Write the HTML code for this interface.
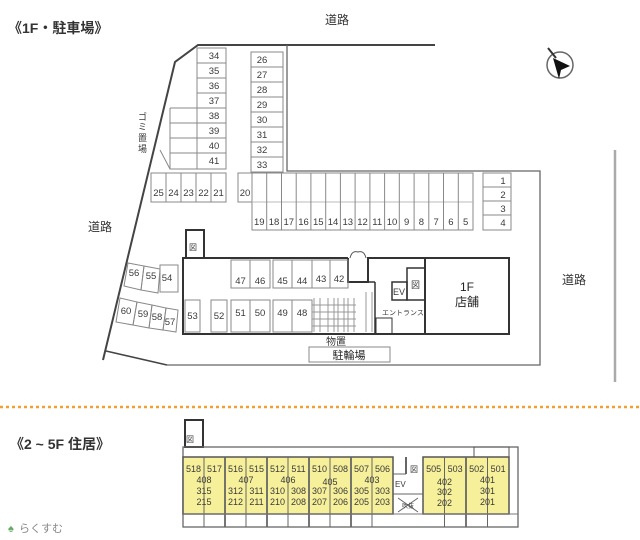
<!DOCTYPE html>
<html><head><meta charset="utf-8"><style>
html,body{margin:0;padding:0;background:#fff}
svg{display:block}
text{font-family:"Liberation Sans","Noto Sans CJK JP",sans-serif;fill:#3a3a3a}
.n{font-size:9.5px;text-anchor:middle}
.c{fill:none;stroke:#888;stroke-width:1}
.t{fill:none;stroke:#333;stroke-width:2}
</style></head><body>
<svg width="640" height="540" viewBox="0 0 640 540" xmlns="http://www.w3.org/2000/svg">
<text x="8" y="33" style="font-size:14px;fill:#333;font-weight:600">《1F・駐車場》</text>
<text x="325" y="24" style="font-size:12px;fill:#333">道路</text>
<text x="88" y="231" style="font-size:12px;fill:#333">道路</text>
<text x="562" y="284" style="font-size:12px;fill:#333">道路</text>
<circle cx="560" cy="65" r="13" fill="none" stroke="#666" stroke-width="1.5"/>
<polygon points="553,58 570,66 561,70 559,79" fill="#111"/>
<line x1="548" y1="48" x2="556" y2="58" stroke="#333" stroke-width="2"/>
<polyline class="t" points="435,45 198,45 175,62 103,360" style="stroke:#444"/>
<line x1="106" y1="351" x2="167" y2="365" stroke="#444" stroke-width="1.5"/>
<polyline points="167,365 540,365 540,171 287,171 287,45" fill="none" stroke="#666" stroke-width="1.3"/>
<line x1="615" y1="150" x2="615" y2="382" stroke="#aaa" stroke-width="2.5"/>
<g class="c">
<rect x="197" y="48" width="29" height="121"/>
<line x1="197" y1="63" x2="226" y2="63"/><line x1="197" y1="78" x2="226" y2="78"/><line x1="197" y1="93" x2="226" y2="93"/><line x1="170" y1="108" x2="226" y2="108"/><line x1="170" y1="123" x2="226" y2="123"/><line x1="170" y1="138" x2="226" y2="138"/><line x1="170" y1="153" x2="226" y2="153"/>
<polyline points="170,108 170,169 197,169"/>
<rect x="251" y="52" width="32" height="120"/>
<line x1="251" y1="67" x2="283" y2="67"/><line x1="251" y1="82" x2="283" y2="82"/><line x1="251" y1="97" x2="283" y2="97"/><line x1="251" y1="112" x2="283" y2="112"/><line x1="251" y1="127" x2="283" y2="127"/><line x1="251" y1="142" x2="283" y2="142"/><line x1="251" y1="157" x2="283" y2="157"/>
<rect x="151" y="173" width="75" height="29"/>
<line x1="166" y1="173" x2="166" y2="202"/><line x1="181" y1="173" x2="181" y2="202"/><line x1="196" y1="173" x2="196" y2="202"/><line x1="211" y1="173" x2="211" y2="202"/>
<rect x="238" y="173" width="14" height="29"/>
<rect x="252" y="173" width="221" height="57"/>
<line x1="252" y1="202" x2="473" y2="202" style="stroke:#bbb"/>
<rect x="483" y="173" width="28" height="57"/>
<line x1="483" y1="187" x2="511" y2="187"/><line x1="483" y1="201" x2="511" y2="201"/><line x1="483" y1="215" x2="511" y2="215"/>
<line x1="160" y1="150" x2="170" y2="169"/>
</g>
<g class="c">
<line x1="266.7" y1="173" x2="266.7" y2="230"/><line x1="281.5" y1="173" x2="281.5" y2="230"/><line x1="296.2" y1="173" x2="296.2" y2="230"/><line x1="310.9" y1="173" x2="310.9" y2="230"/><line x1="325.7" y1="173" x2="325.7" y2="230"/><line x1="340.4" y1="173" x2="340.4" y2="230"/><line x1="355.1" y1="173" x2="355.1" y2="230"/><line x1="369.9" y1="173" x2="369.9" y2="230"/><line x1="384.6" y1="173" x2="384.6" y2="230"/><line x1="399.3" y1="173" x2="399.3" y2="230"/><line x1="414.1" y1="173" x2="414.1" y2="230"/><line x1="428.8" y1="173" x2="428.8" y2="230"/><line x1="443.5" y1="173" x2="443.5" y2="230"/><line x1="458.3" y1="173" x2="458.3" y2="230"/>
</g>
<g class="n">
<text x="214" y="59">34</text><text x="214" y="74">35</text><text x="214" y="89">36</text><text x="214" y="104">37</text><text x="214" y="119">38</text><text x="214" y="134">39</text><text x="214" y="149">40</text><text x="214" y="164">41</text>
<text x="262" y="63">26</text><text x="262" y="78">27</text><text x="262" y="93">28</text><text x="262" y="108">29</text><text x="262" y="123">30</text><text x="262" y="138">31</text><text x="262" y="153">32</text><text x="262" y="168">33</text>
<text x="158.5" y="196">25</text><text x="173.5" y="196">24</text><text x="188.5" y="196">23</text><text x="203.5" y="196">22</text><text x="218.5" y="196">21</text><text x="245" y="196">20</text>
<text x="259.3" y="225">19</text><text x="274" y="225">18</text><text x="288.8" y="225">17</text><text x="303.5" y="225">16</text><text x="318.3" y="225">15</text><text x="333" y="225">14</text><text x="347.8" y="225">13</text><text x="362.5" y="225">12</text><text x="377.2" y="225">11</text><text x="392" y="225">10</text><text x="406.7" y="225">9</text><text x="421.4" y="225">8</text><text x="436.2" y="225">7</text><text x="450.9" y="225">6</text><text x="465.6" y="225">5</text>
<text x="503" y="184">1</text><text x="503" y="198">2</text><text x="503" y="212">3</text><text x="503" y="226">4</text>
</g>
<g style="font-size:9px">
<text x="138" y="120">ゴ</text><text x="138" y="130">ミ</text><text x="138" y="141">置</text><text x="138" y="152">場</text>
</g>
<rect x="186" y="230" width="18" height="28" class="t"/>
<text x="189" y="250" style="font-size:8px">図</text>
<polyline class="t" points="348,258 183,258 183,334 509,334 509,258 368,258 368,282 348,282 348,258"/>
<line x1="425" y1="258" x2="425" y2="334" stroke="#333" stroke-width="2"/>
<path d="M350,258 Q352,250 358,252 Q364,250 366,258" fill="none" stroke="#555"/>
<polyline class="t" points="375,282 375,334" style="stroke-width:1.5"/>
<polyline points="348,282 375,282" class="t" style="stroke-width:1.5"/>
<rect x="376" y="318" width="16" height="16" class="c" style="stroke:#333"/>
<rect x="392" y="282" width="15" height="18" class="t" style="stroke-width:1.5"/>
<rect x="407" y="268" width="18" height="32" class="t" style="stroke-width:1.5"/>
<text x="393" y="295" style="font-size:9px">EV</text>
<text x="411" y="288" style="font-size:9px">図</text>
<text x="382" y="315" style="font-size:7px">エントランス</text>
<text x="467" y="291" style="font-size:12px;text-anchor:middle;fill:#222">1F</text>
<text x="467" y="306" style="font-size:12px;text-anchor:middle;fill:#222">店舗</text>
<g class="c">
<rect x="231" y="260" width="39" height="28"/><line x1="250" y1="260" x2="250" y2="288"/>
<rect x="273" y="260" width="39" height="28"/><line x1="292" y1="260" x2="292" y2="288"/>
<rect x="312" y="260" width="36" height="28"/><line x1="330" y1="260" x2="330" y2="288"/>
<rect x="185" y="300" width="15" height="32"/><rect x="211" y="300" width="16" height="32"/>
<rect x="231" y="300" width="39" height="32"/><line x1="250" y1="300" x2="250" y2="332"/>
<rect x="273" y="300" width="39" height="32"/><line x1="292" y1="300" x2="292" y2="332"/>
<rect x="160" y="265" width="18" height="27"/>
<polygon points="128,263 144,266 141,290 124,286"/><polygon points="144,266 160,269 158,293 141,290"/>
<polygon points="120,298 137,302 133,325 116,322"/><polygon points="137,302 152,305 149,328 133,325"/><polygon points="152,305 166,308 163,330 149,328"/><polygon points="166,308 178,310 176,332 163,330"/>
</g>
<g stroke="#999" stroke-width="1">
<line x1="314" y1="298" x2="314" y2="332"/><line x1="320" y1="298" x2="320" y2="332"/>
<line x1="328" y1="298" x2="328" y2="332"/><line x1="334" y1="298" x2="334" y2="332"/><line x1="338" y1="298" x2="338" y2="332"/><line x1="344" y1="298" x2="344" y2="332"/><line x1="348" y1="298" x2="348" y2="332"/><line x1="354" y1="298" x2="354" y2="332"/>
<line x1="366" y1="292" x2="366" y2="332"/><line x1="372" y1="292" x2="372" y2="332"/>
<line x1="312" y1="305" x2="356" y2="305"/><line x1="312" y1="312" x2="356" y2="312"/><line x1="312" y1="319" x2="356" y2="319"/><line x1="312" y1="326" x2="356" y2="326"/>
</g>
<g class="n">
<text x="240.5" y="284">47</text><text x="260" y="284">46</text><text x="282.5" y="284">45</text><text x="302" y="284">44</text><text x="321" y="282">43</text><text x="339" y="282">42</text>
<text x="192.5" y="319">53</text><text x="219" y="319">52</text><text x="240.5" y="316">51</text><text x="260" y="316">50</text><text x="282.5" y="316">49</text><text x="302" y="316">48</text>
<text x="167" y="281">54</text><text x="134" y="276">56</text><text x="151" y="279">55</text>
<text x="126" y="314">60</text><text x="143" y="317">59</text><text x="157" y="320">58</text><text x="170" y="325">57</text>
</g>
<text x="336" y="345" style="font-size:10px;text-anchor:middle">物置</text>
<rect x="309" y="347" width="81" height="15" class="c"/>
<text x="349" y="359" style="font-size:11px;text-anchor:middle;fill:#222">駐輪場</text>
<line x1="0" y1="407" x2="640" y2="407" stroke="#f0a030" stroke-width="2.5" stroke-dasharray="3,3"/>
<text x="10" y="449" style="font-size:14px;fill:#333;font-weight:600">《2 ~ 5F 住居》</text>
<rect x="185" y="420" width="18" height="27" class="t"/>
<text x="186" y="442" style="font-size:8px">図</text>
<rect x="183" y="447" width="335" height="80" fill="none" stroke="#666" stroke-width="1.3"/>
<rect x="474" y="447" width="35" height="10" class="c" style="stroke:#555"/>
<rect x="183" y="457" width="210" height="57" fill="#f7f09a" stroke="#555" stroke-width="1.5"/>
<rect x="423" y="457" width="86" height="57" fill="#f7f09a" stroke="#555" stroke-width="1.5"/>
<g stroke="#666" stroke-width="1">
<line x1="204" y1="457" x2="204" y2="527"/><line x1="225" y1="457" x2="225" y2="527" stroke-width="1.8"/><line x1="246" y1="457" x2="246" y2="527"/><line x1="267" y1="457" x2="267" y2="527" stroke-width="1.8"/><line x1="288" y1="457" x2="288" y2="527"/><line x1="309" y1="457" x2="309" y2="527" stroke-width="1.8"/><line x1="330" y1="457" x2="330" y2="527"/><line x1="351" y1="457" x2="351" y2="527" stroke-width="1.8"/><line x1="372" y1="457" x2="372" y2="527"/>
<line x1="444.5" y1="457" x2="444.5" y2="527"/><line x1="466" y1="457" x2="466" y2="527" stroke-width="1.8"/><line x1="487.5" y1="457" x2="487.5" y2="527"/>
<line x1="393" y1="514" x2="423" y2="514"/><line x1="393" y1="494" x2="423" y2="494"/>
<line x1="393" y1="474" x2="406" y2="474"/><line x1="406" y1="457" x2="406" y2="474" stroke-width="2"/>
<line x1="398" y1="498" x2="418" y2="512"/><line x1="418" y1="498" x2="398" y2="512"/>
</g>
<g stroke="#777" stroke-width="1"><line x1="183" y1="514" x2="518" y2="514"/></g>
<g class="n" style="font-size:9px">
<text x="193.5" y="472">518</text><text x="214.5" y="472">517</text><text x="235.5" y="472">516</text><text x="256.5" y="472">515</text><text x="277.5" y="472">512</text><text x="298.5" y="472">511</text><text x="319.5" y="472">510</text><text x="340.5" y="472">508</text><text x="361.5" y="472">507</text><text x="382.5" y="472">506</text>
<text x="433.7" y="472">505</text><text x="455.2" y="472">503</text><text x="476.7" y="472">502</text><text x="498.2" y="472">501</text>
<text x="204" y="483">408</text><text x="246" y="483">407</text><text x="288" y="483">406</text><text x="330" y="485">405</text><text x="372" y="483">403</text>
<text x="444.5" y="485">402</text><text x="487.5" y="483">401</text>
<text x="204" y="494">315</text><text x="235.5" y="494">312</text><text x="256.5" y="494">311</text><text x="277.5" y="494">310</text><text x="298.5" y="494">308</text><text x="319.5" y="494">307</text><text x="340.5" y="494">306</text><text x="361.5" y="494">305</text><text x="382.5" y="494">303</text>
<text x="444.5" y="495">302</text><text x="487.5" y="494">301</text>
<text x="204" y="505">215</text><text x="235.5" y="505">212</text><text x="256.5" y="505">211</text><text x="277.5" y="505">210</text><text x="298.5" y="505">208</text><text x="319.5" y="505">207</text><text x="340.5" y="505">206</text><text x="361.5" y="505">205</text><text x="382.5" y="505">203</text>
<text x="444.5" y="506">202</text><text x="487.5" y="505">201</text>
</g>
<text x="395" y="487" style="font-size:8px">EV</text>
<text x="410" y="472" style="font-size:8px">図</text>
<text x="408" y="508" style="font-size:6px;text-anchor:middle">吹抜</text>
<text x="8" y="532" style="font-size:11px;fill:#6a6">♠</text>
<text x="19" y="532" style="font-size:11px;fill:#888">らくすむ</text>
</svg>
</body></html>
